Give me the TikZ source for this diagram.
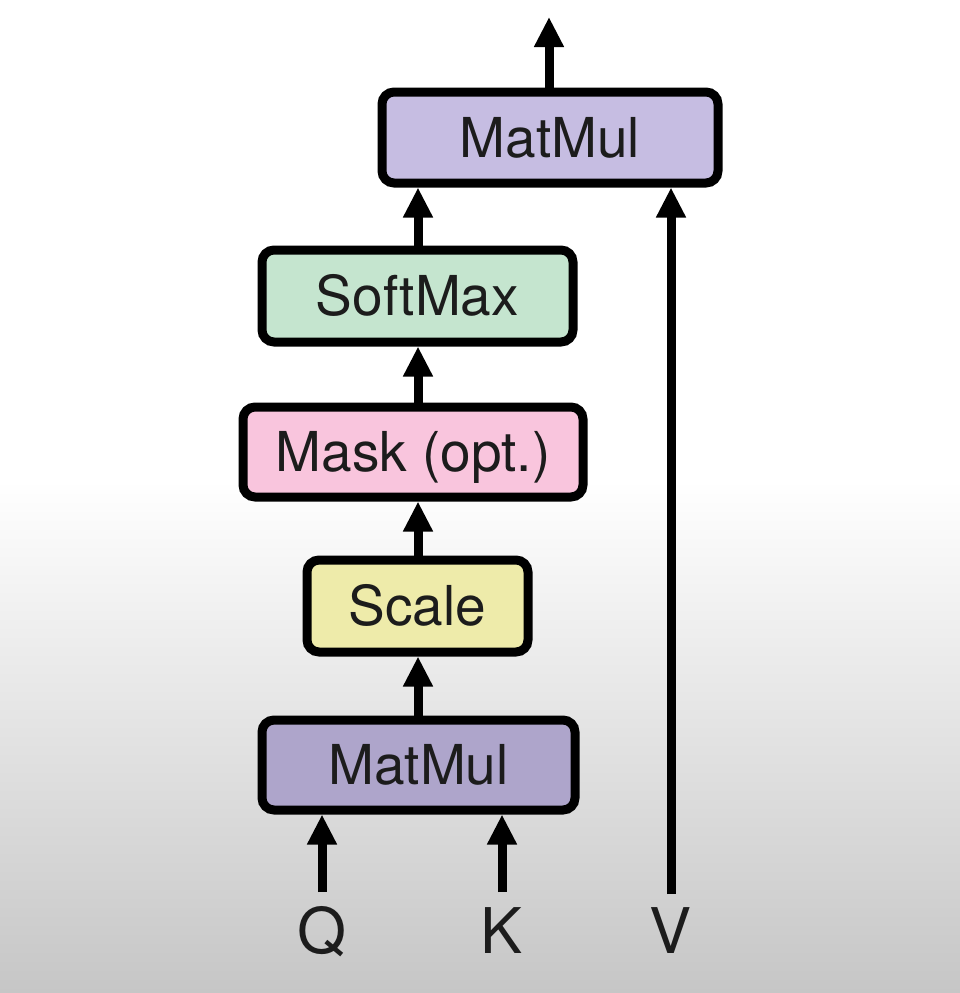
\documentclass[tikz,border=0pt]{standalone}
\usepackage{fontspec}
\setmainfont{TeX Gyre Heros}
\usetikzlibrary{arrows.meta}
\definecolor{bgbot}{HTML}{C6C6C6}
\definecolor{mmtop}{HTML}{C6BDE2}
\definecolor{smx}{HTML}{C5E5CF}
\definecolor{msk}{HTML}{F9C5DD}
\definecolor{scl}{HTML}{EEEBAA}
\definecolor{mmbot}{HTML}{AEA5CB}
\definecolor{ink}{HTML}{1C1C1C}
\begin{document}
\begin{tikzpicture}[x=1pt,y=-1pt,
  blk/.style={draw=black, line width=9pt, rounded corners=12pt, inner sep=0pt,
    font=\fontsize{55}{60}\selectfont, text=ink, text height=39.5pt, text depth=0pt},
  arr/.style={line width=9pt, -{Triangle[length=30pt,width=28pt]}},
  lbl/.style={font=\fontsize{63}{68}\selectfont, text=ink, inner sep=0pt, anchor=base}]
% background
\fill[white] (0,0) rectangle (960,480);
\shade[top color=white, bottom color=bgbot] (0,480) rectangle (960,993);
\useasboundingbox (0,0) rectangle (960,993);
% boxes
\node[blk, fill=mmtop, minimum width=336pt, minimum height=91pt] (mmT) at (550,137.5) {MatMul};
\node[blk, fill=smx, minimum width=311pt, minimum height=92pt] (sm) at (417.5,296) {SoftMax};
\node[blk, fill=msk, minimum width=340pt, minimum height=90pt] (mask) at (413,452) {Mask (opt.)};
\node[blk, fill=scl, minimum width=221pt, minimum height=92pt] (scale) at (417.5,606) {Scale};
\node[blk, fill=mmbot, minimum width=313pt, minimum height=90pt] (mmB) at (418.5,765) {MatMul};
% labels
\node[lbl] (q) at (322,953) {Q};
\node[lbl] (k) at (502,953) {K};
\node[lbl] (v) at (671,953) {V};
% arrow start/end points
\coordinate (qs) at (322,892);
\coordinate (ks) at (502,892);
\coordinate (vs) at (671,894);
\coordinate (out) at (549,17);
\coordinate (ax) at (418,0);
% connectors
\draw[arr] (qs) -- (qs |- mmB.south);
\draw[arr] (ks) -- (ks |- mmB.south);
\draw[arr] (vs) -- (vs |- mmT.south);
\draw[arr] (ax |- mmB.north) -- (ax |- scale.south);
\draw[arr] (ax |- scale.north) -- (ax |- mask.south);
\draw[arr] (ax |- mask.north) -- (ax |- sm.south);
\draw[arr] (ax |- sm.north) -- (ax |- mmT.south);
\draw[arr] (out |- mmT.north) -- (out);
\end{tikzpicture}
\end{document}
